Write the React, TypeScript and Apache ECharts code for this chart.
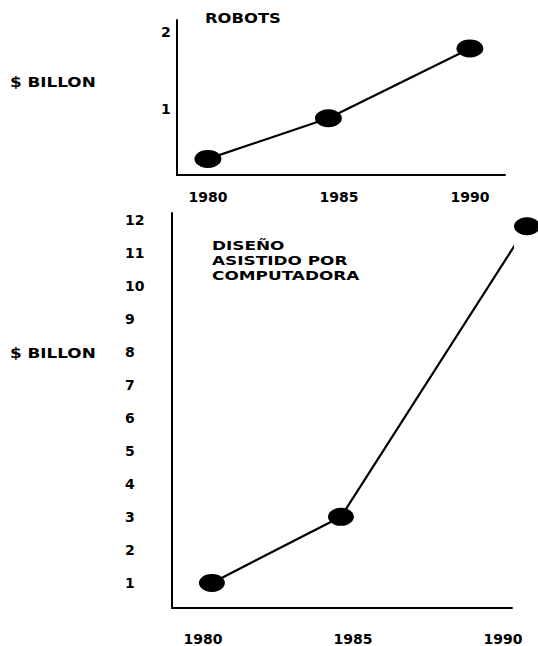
import React, { useEffect, useRef } from "react";
import * as echarts from "echarts";

// Top chart: Robots ($ billion)
const robotsYears = [1980, 1984.6, 1990];
const robotsValues = [0.35, 0.88, 1.79];
const robotsYTicks = [1, 2];

// Bottom chart: computer-aided design ($ billion)
const cadYears = [1980.3, 1984.6, 1990.8];
const cadValues = [1.0, 3.0, 11.8];
const cadYTicks = [1, 2, 3, 4, 5, 6, 7, 8, 9, 10, 11, 12];

const xTickYears = [1980, 1985, 1990];

const FONT = "DejaVu Sans";

export default function App() {
  const ref = useRef<HTMLDivElement>(null);

  useEffect(() => {
    if (!ref.current) return;
    const chart = echarts.init(ref.current, undefined, { renderer: "svg" });

    const axisLabelStyle = {
      color: "#000",
      fontFamily: FONT,
      fontWeight: "bold" as const,
      fontSize: 14,
    };

    const option: any = {
      animation: false,
      backgroundColor: "#fff",
      grid: [
        { left: 177, right: 538 - 505, top: 20, height: 155 },
        { left: 172, right: 538 - 512, top: 213, height: 399 },
      ],
      xAxis: [
        {
          type: "value",
          gridIndex: 0,
          min: 1978.82,
          max: 1991.34,
          axisLine: { show: true, onZero: false, lineStyle: { color: "#000", width: 2 } },
          axisTick: { show: false },
          splitLine: { show: false },
          axisLabel: {
            ...axisLabelStyle,
            margin: 15,
            customValues: xTickYears,
            formatter: (v: number) => String(Math.round(v)),
          },
        },
        {
          type: "value",
          gridIndex: 1,
          min: 1978.97,
          max: 1990.3,
          axisLine: { show: true, onZero: false, lineStyle: { color: "#000", width: 2 } },
          axisTick: { show: false },
          splitLine: { show: false },
          axisLabel: {
            ...axisLabelStyle,
            margin: 24,
            customValues: xTickYears,
            formatter: (v: number) => String(Math.round(v)),
          },
        },
      ],
      yAxis: [
        {
          type: "value",
          gridIndex: 0,
          min: 0.14,
          max: 2.16,
          axisLine: { show: true, onZero: false, lineStyle: { color: "#000", width: 2 } },
          axisTick: { show: false },
          splitLine: { show: false },
          axisLabel: {
            ...axisLabelStyle,
            align: "left",
            margin: 16,
            customValues: robotsYTicks,
            formatter: (v: number) => String(Math.round(v)),
          },
        },
        {
          type: "value",
          gridIndex: 1,
          min: 0.24,
          max: 12.2,
          axisLine: { show: true, onZero: false, lineStyle: { color: "#000", width: 2 } },
          axisTick: { show: false },
          splitLine: { show: false },
          axisLabel: {
            ...axisLabelStyle,
            align: "left",
            margin: 47,
            customValues: cadYTicks,
            formatter: (v: number) => String(Math.round(v)),
          },
        },
      ],
      series: [
        {
          type: "line",
          xAxisIndex: 0,
          yAxisIndex: 0,
          data: robotsYears.map((y, i) => [y, robotsValues[i]]),
          symbol: "circle",
          symbolSize: [27, 18],
          clip: false,
          lineStyle: { color: "#000", width: 2.2 },
          itemStyle: { color: "#000" },
        },
        {
          type: "line",
          xAxisIndex: 1,
          yAxisIndex: 1,
          data: cadYears.map((y, i) => [y, cadValues[i]]),
          symbol: "circle",
          symbolSize: [26, 18],
          clip: false,
          lineStyle: { color: "#000", width: 2.2 },
          itemStyle: { color: "#000" },
        },
      ],
      graphic: [
        {
          type: "text",
          x: 10,
          y: 82,
          scaleX: 1.2,
          style: {
            text: "$ BILLON",
            font: `bold 14px '${FONT}'`,
            fill: "#000",
            verticalAlign: "middle",
          },
        },
        {
          type: "text",
          x: 10,
          y: 353,
          scaleX: 1.2,
          style: {
            text: "$ BILLON",
            font: `bold 14px '${FONT}'`,
            fill: "#000",
            verticalAlign: "middle",
          },
        },
        {
          type: "text",
          x: 205,
          y: 18,
          scaleX: 1.17,
          style: {
            text: "ROBOTS",
            font: `bold 14px '${FONT}'`,
            fill: "#000",
            verticalAlign: "middle",
          },
        },
        {
          type: "text",
          x: 212,
          y: 238,
          scaleX: 1.3,
          style: {
            text: "DISEÑO\nASISTIDO POR\nCOMPUTADORA",
            font: `bold 13px '${FONT}'`,
            lineHeight: 15,
            fill: "#000",
            verticalAlign: "top",
          },
        },
      ],
    };

    chart.setOption(option);
    return () => chart.dispose();
  }, []);

  return (
    <div
      ref={ref}
      style={{ position: "fixed", left: 0, top: 0, width: 538, height: 646 }}
    />
  );
}
